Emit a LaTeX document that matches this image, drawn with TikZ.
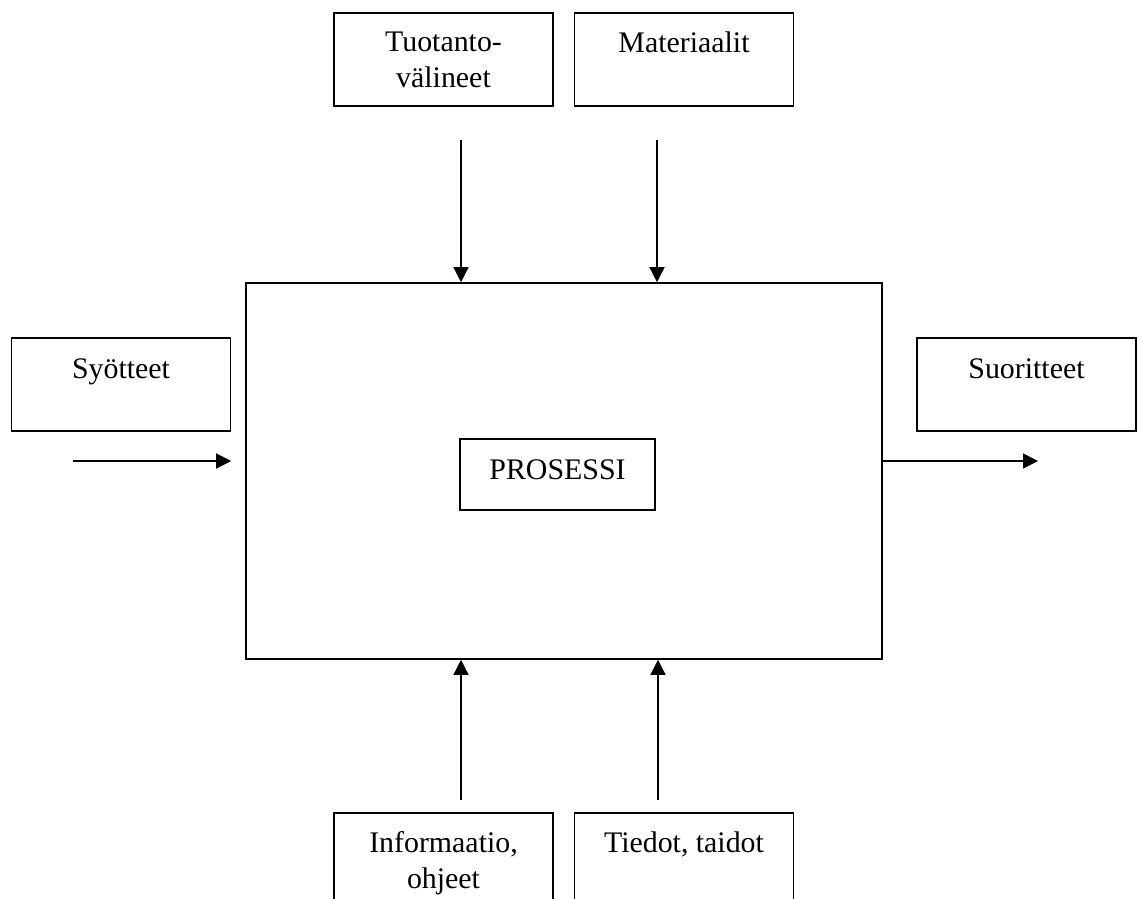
\documentclass[tikz,border=0pt]{standalone}
\usepackage{fontspec}
\setmainfont{Liberation Serif}
\usetikzlibrary{arrows.meta, positioning}
\usepackage{xcolor}
\definecolor{linedark}{RGB}{0, 0, 0}

\begin{document}
\begin{tikzpicture}[
    box/.style={rectangle, draw=linedark, minimum width=4.38cm, minimum height=1.86cm, line width=0.8pt, inner sep=0pt},
    txt/.style={font=\fontsize{17}{20.5}\selectfont, align=center, inner sep=0pt, color=linedark},
    arrow/.style={-{Triangle[length=3mm, width=3mm]}, line width=0.8pt, color=linedark}
]
\useasboundingbox (0,0) rectangle (22.74,-17.98);

% Process
\node[box, minimum width=12.72cm, minimum height=7.52cm, line width=0.9pt] (main) at (11.28,-9.42) {};
\node[box, minimum width=3.9cm, minimum height=1.42cm] (prosessi) at (11.15,-9.49) {};
\node[txt, below=0.42cm of prosessi.north] (prosessitext) {PROSESSI};

% Resources on top
\node[box] (tuotanto) at (8.87,-1.19) {};
\node[txt, below=0.38cm of tuotanto.north] (tuotantotext) {Tuotanto-\\välineet};
\node[box] (materiaalit) at (13.68,-1.19) {};
\node[txt, below=0.38cm of materiaalit.north] (materiaalittext) {Materiaalit};

% Input and output
\node[box] (syotteet) at (2.42,-7.69) {};
\node[txt, below=0.42cm of syotteet.north] (syotteettext) {Syötteet};
\node[box] (suoritteet) at (20.53,-7.69) {};
\node[txt, below=0.42cm of suoritteet.north] (suoritteettext) {Suoritteet};

% Controls below
\node[box] (informaatio) at (8.87,-17.19) {};
\node[txt, below=0.38cm of informaatio.north] (informaatiotext) {Informaatio,\\ohjeet};
\node[box] (tiedot) at (13.68,-17.19) {};
\node[txt, below=0.38cm of tiedot.north] (tiedottext) {Tiedot, taidot};

% Arrow ends
\coordinate (tin1) at (9.22,-2.8);
\coordinate (tin2) at (13.14,-2.8);
\coordinate (bin1) at (9.22,-16.0);
\coordinate (bin2) at (13.16,-16.0);
\coordinate (sin) at (1.46,-9.22);
\coordinate (sout) at (20.76,-9.22);

% Arrows
\draw[arrow] (tin1) -- (tin1 |- main.north);
\draw[arrow] (tin2) -- (tin2 |- main.north);
\draw[arrow] (bin1) -- (bin1 |- main.south);
\draw[arrow] (bin2) -- (bin2 |- main.south);
\draw[arrow] (sin) -- (sin -| syotteet.east);
\draw[arrow] (sin -| main.east) -- (sout);

\end{tikzpicture}
\end{document}
